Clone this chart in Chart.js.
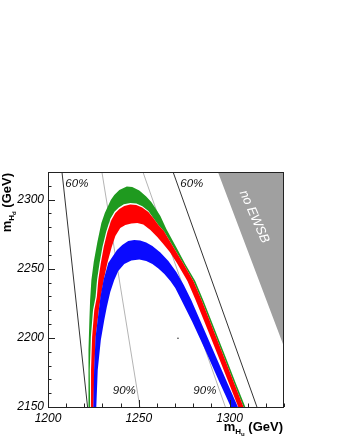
<!DOCTYPE html>
<html>
<head>
<meta charset="utf-8">
<script src="https://cdn.jsdelivr.net/npm/chart.js@4.4.1/dist/chart.umd.min.js"></script>
<style>
  html, body { margin: 0; padding: 0; background: #fff; }
  #wrap { width: 340px; height: 440px; }
</style>
</head>
<body>
<div id="wrap"><canvas id="c" width="340" height="440"></canvas></div>
<script>
// axis ranges (GeV)
const xRange = [1200, 1330];
const yRange = [2150, 2320];
const tickStep = 10;
const labelStep = 50;

// green band: outer edge and inner edge, left foot -> top -> right foot
const greenOuterX = [1222.5, 1222.2, 1222.4, 1222.8, 1223.2, 1223.9, 1225.2, 1227.2, 1229.4, 1231.3, 1234.6, 1236.5, 1239.3, 1243.4, 1246.4, 1250.3, 1254.1, 1256.9, 1259.1, 1261.9, 1265.2, 1268.5, 1271.8, 1275.6, 1281.1, 1285.5, 1292.0, 1298.5, 1303.4, 1308.7];
const greenOuterY = [2150, 2169.5, 2191.2, 2212.9, 2227.4, 2241.9, 2254.9, 2269.4, 2283.1, 2290.3, 2299.7, 2303.4, 2307.0, 2309.5, 2309.1, 2306.6, 2302.3, 2298.3, 2294.0, 2288.2, 2278.8, 2270.8, 2262.9, 2253.4, 2241.1, 2227.4, 2205.7, 2184.0, 2167.4, 2150];
const greenInnerX = [1223.2, 1223.0, 1223.6, 1224.8, 1226.2, 1227.0, 1228.4, 1230.0, 1232.0, 1234.3, 1236.6, 1239.0, 1241.8, 1245.3, 1248.7, 1252.0, 1255.3, 1258.0, 1260.8, 1263.8, 1267.4, 1270.7, 1274.7, 1280.1, 1284.6, 1291.1, 1297.6, 1302.5, 1307.7];
const greenInnerY = [2150, 2176.8, 2200.6, 2220.2, 2229.6, 2241.9, 2254.2, 2265.7, 2276.6, 2286.0, 2291.3, 2294.4, 2296.6, 2297.6, 2297.2, 2295.3, 2291.8, 2286.7, 2281.7, 2277.3, 2269.4, 2262.1, 2253.4, 2241.1, 2227.4, 2205.7, 2184.0, 2167.4, 2150];

// red band
const redOuterX = [1223.9, 1223.7, 1224.3, 1225.5, 1226.9, 1227.7, 1229.1, 1230.7, 1232.7, 1234.9, 1237.1, 1239.3, 1242.0, 1245.3, 1248.6, 1251.9, 1255.3, 1258.0, 1260.8, 1263.8, 1267.4, 1270.7, 1274.7, 1280.1, 1284.6, 1291.1, 1297.6, 1302.5, 1307.7];
const redOuterY = [2150, 2176.8, 2200.6, 2220.2, 2229.6, 2241.9, 2254.2, 2265.7, 2276.6, 2285.3, 2290.3, 2293.2, 2295.4, 2296.5, 2296.1, 2294.3, 2291.1, 2286.7, 2281.7, 2277.3, 2269.4, 2262.1, 2253.4, 2241.1, 2227.4, 2205.7, 2184.0, 2167.4, 2150];
const redInnerX = [1225.1, 1225.5, 1226.3, 1228.0, 1229.1, 1230.7, 1232.7, 1235.1, 1237.1, 1239.8, 1242.6, 1245.9, 1249.2, 1252.5, 1256.4, 1260.2, 1263.5, 1267.1, 1271.0, 1276.8, 1281.3, 1288.0, 1294.6, 1299.6, 1304.8];
const redInnerY = [2150, 2176.8, 2200.6, 2220.2, 2229.6, 2241.9, 2254.2, 2265.7, 2273.7, 2279.5, 2281.7, 2282.7, 2283.1, 2282.0, 2278.0, 2273.0, 2267.9, 2262.1, 2254.2, 2241.1, 2227.4, 2205.7, 2184.0, 2167.4, 2150];

// blue band
const blueOuterX = [1225.0, 1225.4, 1226.2, 1228.0, 1228.9, 1230.6, 1233.2, 1238.0, 1240.9, 1244.2, 1247.5, 1250.8, 1254.1, 1257.5, 1261.9, 1266.3, 1270.7, 1274.8, 1278.9, 1283.7, 1293.3, 1298.8, 1304.6];
const blueOuterY = [2150, 2176.8, 2200.6, 2220.2, 2229.6, 2241.9, 2254.2, 2263.6, 2267.2, 2270.1, 2270.8, 2270.4, 2269.0, 2266.5, 2261.8, 2255.6, 2247.7, 2238.3, 2227.4, 2212.9, 2184.0, 2167.4, 2150];
const blueInnerX = [1226.6, 1227.4, 1229.1, 1231.0, 1232.4, 1234.3, 1236.5, 1238.7, 1242.0, 1245.9, 1250.3, 1254.1, 1257.5, 1260.8, 1264.1, 1267.4, 1270.1, 1272.9, 1276.2, 1279.5, 1282.8, 1286.6, 1290.5, 1294.4, 1297.7, 1300.7];
const blueInnerY = [2150, 2176.8, 2198.5, 2212.9, 2222.3, 2233.2, 2241.9, 2248.4, 2253.4, 2256.0, 2256.7, 2255.6, 2253.4, 2250.2, 2246.2, 2241.1, 2236.1, 2228.9, 2220.2, 2211.5, 2202.1, 2191.2, 2179.7, 2168.1, 2158.7, 2150];

// straight contours (top point, bottom point)
const line60LeftX = [1207.7, 1221.8];
const line90LeftX = [1229.7, 1250.6];
const line90RightX = [1252.3, 1297.7];
const line60RightX = [1268.9, 1315.1];
const contourY = [2320, 2150];

// excluded region
const noEwsbX = [1293.6, 1330, 1330];
const noEwsbY = [2320, 2320, 2193.6];

// stray point
const dotX = [1271.6];
const dotY = [2199.7];

function toPoints(xs, ys) {
  return xs.map((x, i) => ({ x: x, y: ys[i] }));
}
function closedBand(outerX, outerY, innerX, innerY) {
  return toPoints(outerX, outerY).concat(toPoints(innerX, innerY).reverse());
}

const FONT = "'Liberation Sans', Arial, Helvetica, sans-serif";

function shape(data, color, order) {
  return {
    data: data, showLine: true, fill: 'shape', backgroundColor: color,
    borderColor: 'rgba(0,0,0,0)', borderWidth: 0, pointRadius: 0, tension: 0, order: order
  };
}
function contour(xs, color, order) {
  return {
    data: toPoints(xs, contourY), showLine: true, fill: false, borderColor: color,
    borderWidth: 1, pointRadius: 0, order: order
  };
}

// draw m_{H_x} (GeV) with subscripts, right-aligned at (0,0)
function drawMassTitle(ctx, sub) {
  const big = 'bold 13px ' + FONT, mid = 'bold 8px ' + FONT, small = 'bold 6px ' + FONT;
  const parts = [
    { t: 'm', f: big, dy: 0 },
    { t: 'H', f: mid, dy: 3 },
    { t: sub, f: small, dy: 5 },
    { t: ' (GeV)', f: big, dy: 0 }
  ];
  let w = 0;
  parts.forEach(p => { ctx.font = p.f; p.w = ctx.measureText(p.t).width; w += p.w; });
  let x = -w;
  ctx.textAlign = 'left';
  ctx.textBaseline = 'alphabetic';
  ctx.fillStyle = '#000';
  parts.forEach(p => { ctx.font = p.f; ctx.fillText(p.t, x, p.dy); x += p.w; });
}

const rootStyle = {
  id: 'rootStyle',
  afterDatasetsDraw(chart) {
    const ctx = chart.ctx;
    const a = chart.chartArea;
    const xs = chart.scales.x, ys = chart.scales.y;

    ctx.save();
    // labels inside the frame
    ctx.fillStyle = '#111';
    ctx.font = 'italic 11.5px ' + FONT;
    ctx.textAlign = 'center';
    ctx.textBaseline = 'middle';
    [['60%', 1215.9, 2311.3], ['60%', 1279.2, 2311.3], ['90%', 1242.0, 2161.6], ['90%', 1286.4, 2161.6]]
      .forEach(l => ctx.fillText(l[0], xs.getPixelForValue(l[1]), ys.getPixelForValue(l[2])));

    ctx.save();
    ctx.translate(xs.getPixelForValue(1313.6), ys.getPixelForValue(2287.7));
    ctx.rotate(66 * Math.PI / 180);
    ctx.fillStyle = '#fff';
    ctx.font = 'italic 13px ' + FONT;
    ctx.fillText('no EWSB', 0, 0);
    ctx.restore();

    // frame
    ctx.strokeStyle = '#222';
    ctx.lineWidth = 1;
    ctx.strokeRect(Math.round(a.left) + 0.5, Math.round(a.top) + 0.5,
      Math.round(a.right - a.left) - 1, Math.round(a.bottom - a.top));

    // inward ticks
    ctx.beginPath();
    xs.ticks.forEach(t => {
      const p = Math.round(xs.getPixelForValue(t.value)) + 0.5;
      const len = t.value % labelStep === 0 ? 7 : 3.5;
      ctx.moveTo(p, a.bottom);
      ctx.lineTo(p, a.bottom - len);
    });
    ys.ticks.forEach(t => {
      const p = Math.round(ys.getPixelForValue(t.value)) + 0.5;
      const len = t.value % labelStep === 0 ? 7 : 3.5;
      ctx.moveTo(a.left, p);
      ctx.lineTo(a.left + len, p);
    });
    ctx.stroke();

    // axis titles
    ctx.save();
    ctx.translate(a.right - 1, 431);
    drawMassTitle(ctx, 'u');
    ctx.restore();

    ctx.save();
    ctx.translate(11, a.top + 1);
    ctx.rotate(-Math.PI / 2);
    drawMassTitle(ctx, 'd');
    ctx.restore();

    ctx.restore();
  }
};

new Chart(document.getElementById('c'), {
  type: 'scatter',
  data: {
    datasets: [
      shape(closedBand(blueOuterX, blueOuterY, blueInnerX, blueInnerY), '#0a0aff', 1),
      shape(closedBand(redOuterX, redOuterY, redInnerX, redInnerY), '#ff0000', 2),
      shape(closedBand(greenOuterX, greenOuterY, greenInnerX, greenInnerY), '#1f9a1f', 3),
      contour(line60LeftX, '#333333', 4),
      contour(line60RightX, '#333333', 5),
      contour(line90LeftX, '#b4b4b4', 6),
      contour(line90RightX, '#b4b4b4', 7),
      shape(toPoints(noEwsbX, noEwsbY), '#a0a0a0', 8),
      { data: toPoints(dotX, dotY), pointRadius: 0.8, backgroundColor: '#333', borderWidth: 0, order: 0 }
    ]
  },
  options: {
    responsive: false,
    animation: false,
    events: [],
    layout: { padding: { top: 172, right: 56, bottom: 0, left: 0 } },
    plugins: { legend: { display: false }, tooltip: { enabled: false } },
    scales: {
      x: {
        type: 'linear', min: xRange[0], max: xRange[1],
        afterFit: s => { s.height = 33; },
        grid: { display: false, drawTicks: false },
        border: { display: false },
        ticks: {
          stepSize: tickStep, autoSkip: false, maxRotation: 0, padding: 4,
          color: '#000', font: { family: FONT, size: 12, style: 'italic' },
          callback: v => (v % labelStep === 0 ? String(v) : '')
        }
      },
      y: {
        type: 'linear', min: yRange[0], max: yRange[1],
        afterFit: s => { s.width = 48; },
        grid: { display: false, drawTicks: false },
        border: { display: false },
        ticks: {
          stepSize: tickStep, autoSkip: false, padding: 4,
          color: '#000', font: { family: FONT, size: 12, style: 'italic' },
          callback: v => (v % labelStep === 0 ? String(v) : '')
        }
      }
    }
  },
  plugins: [rootStyle]
});
</script>
</body>
</html>
